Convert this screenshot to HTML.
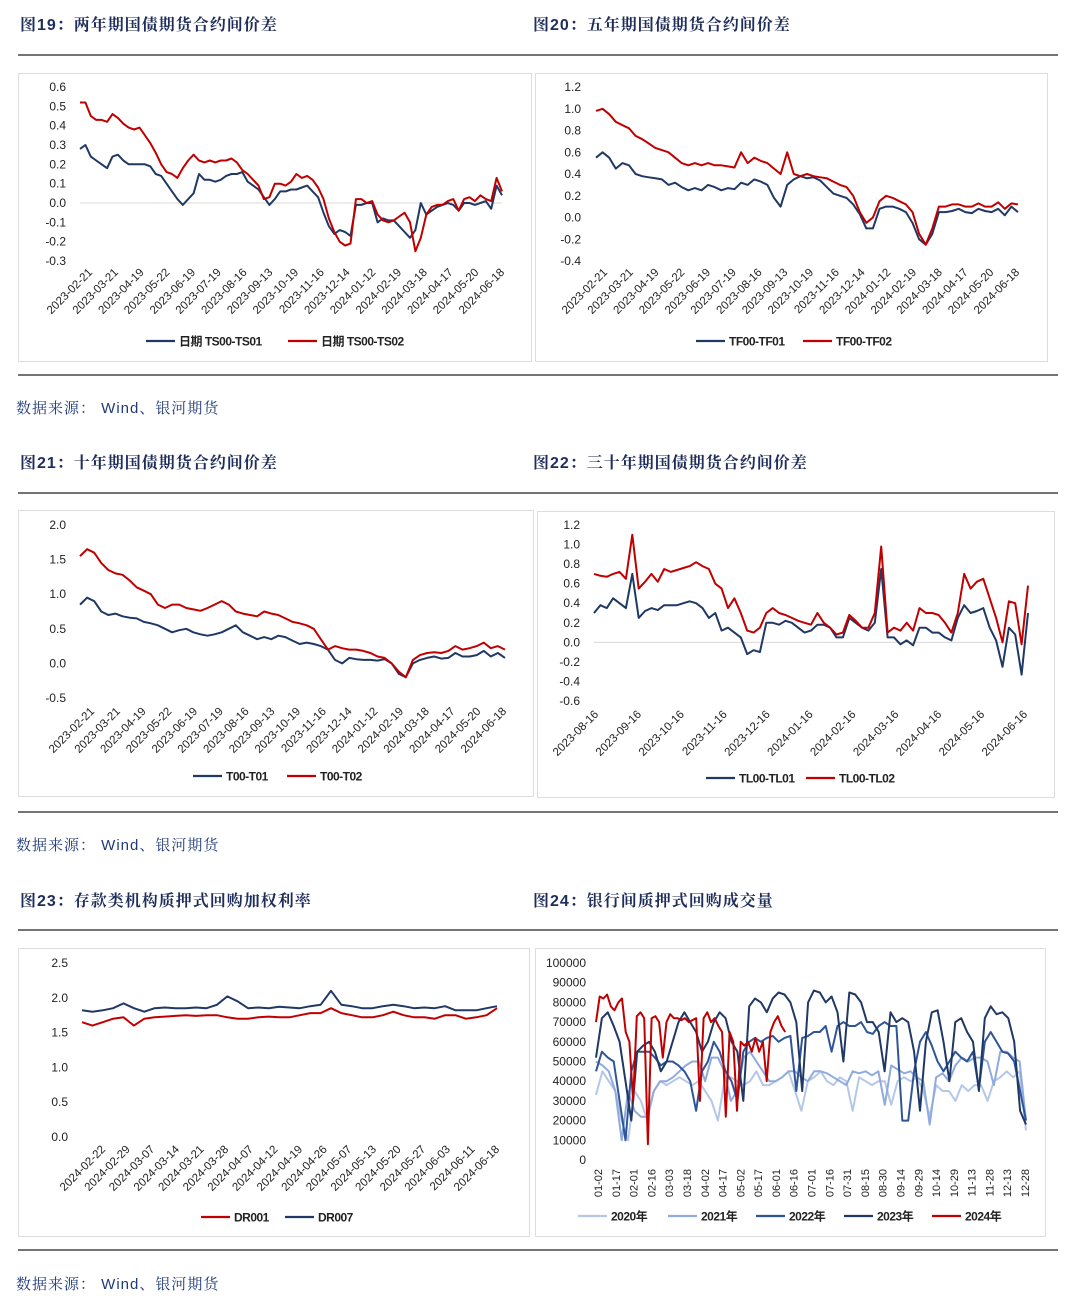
<!DOCTYPE html>
<html><head><meta charset="utf-8">
<style>
html,body{margin:0;padding:0;background:#fff;width:1080px;height:1312px;overflow:hidden}
svg{display:block}
.t{font-family:"Liberation Sans","Noto Serif CJK SC",serif;font-size:16px;font-weight:bold;fill:#1f2d5a;letter-spacing:1px}
.src{font-family:"Liberation Sans","Noto Serif CJK SC",serif;font-size:15px;fill:#1f3a7a;letter-spacing:1px}
.ax{font-family:"Liberation Sans","Noto Sans CJK SC",sans-serif;font-size:12px;fill:#222}
.lg{font-family:"Liberation Sans","Noto Sans CJK SC",sans-serif;font-size:12px;font-weight:bold;fill:#222;letter-spacing:-0.5px}
</style></head><body>
<svg id="pg" width="1080" height="1312" xmlns="http://www.w3.org/2000/svg">
<text class="t" x="20" y="30">图19：两年期国债期货合约间价差</text>
<text class="t" x="533" y="30">图20：五年期国债期货合约间价差</text>
<line x1="18" y1="55" x2="1058" y2="55" stroke="#222" stroke-width="1.3"/>
<rect x="18.5" y="73.5" width="513" height="288" fill="none" stroke="#ddd"/>
<rect x="535.5" y="73.5" width="512" height="288" fill="none" stroke="#ddd"/>
<line x1="18" y1="375" x2="1058" y2="375" stroke="#222" stroke-width="1.3"/>
<text class="src" x="16" y="413">数据来源： Wind、银河期货</text>

<text class="t" x="20" y="468">图21：十年期国债期货合约间价差</text>
<text class="t" x="533" y="468">图22：三十年期国债期货合约间价差</text>
<line x1="18" y1="493" x2="1058" y2="493" stroke="#222" stroke-width="1.3"/>
<rect x="18.5" y="510.5" width="515" height="286" fill="none" stroke="#ddd"/>
<rect x="537.5" y="511.5" width="517" height="286" fill="none" stroke="#ddd"/>
<line x1="18" y1="812" x2="1058" y2="812" stroke="#222" stroke-width="1.3"/>
<text class="src" x="16" y="850">数据来源： Wind、银河期货</text>

<text class="t" x="20" y="906">图23：存款类机构质押式回购加权利率</text>
<text class="t" x="533" y="906">图24：银行间质押式回购成交量</text>
<line x1="18" y1="930" x2="1058" y2="930" stroke="#222" stroke-width="1.3"/>
<rect x="18.5" y="948.5" width="511" height="288" fill="none" stroke="#ddd"/>
<rect x="535.5" y="948.5" width="510" height="288" fill="none" stroke="#ddd"/>
<line x1="18" y1="1250" x2="1058" y2="1250" stroke="#222" stroke-width="1.3"/>
<text class="src" x="16" y="1289">数据来源： Wind、银河期货</text>
</svg>
<script>
// ---- data ----
const c19Ticks=["0.6","0.5","0.4","0.3","0.2","0.1","0.0","-0.1","-0.2","-0.3"];
const c19Dates=["2023-02-21","2023-03-21","2023-04-19","2023-05-22","2023-06-19","2023-07-19","2023-08-16","2023-09-13","2023-10-19","2023-11-16","2023-12-14","2024-01-12","2024-02-19","2024-03-18","2024-04-17","2024-05-20","2024-06-18"];
const c19TS01=[0.28,0.3,0.24,0.22,0.2,0.18,0.24,0.25,0.22,0.2,0.2,0.2,0.2,0.19,0.15,0.14,0.1,0.06,0.02,-0.01,0.02,0.05,0.15,0.12,0.12,0.11,0.12,0.14,0.15,0.15,0.16,0.11,0.09,0.07,0.03,-0.01,0.02,0.06,0.06,0.07,0.07,0.08,0.09,0.06,0.03,-0.05,-0.12,-0.16,-0.14,-0.15,-0.17,-0.01,-0.01,0.0,0.0,-0.1,-0.08,-0.09,-0.09,-0.12,-0.15,-0.18,-0.14,0.0,-0.06,-0.04,-0.02,-0.01,0.0,-0.01,-0.04,0.0,0.0,-0.01,0.0,0.01,-0.03,0.09,0.04];
const c19TS02=[0.52,0.52,0.45,0.43,0.43,0.42,0.46,0.44,0.41,0.39,0.38,0.39,0.35,0.31,0.26,0.2,0.16,0.15,0.13,0.18,0.22,0.25,0.22,0.21,0.22,0.21,0.22,0.22,0.23,0.21,0.17,0.15,0.12,0.09,0.02,0.03,0.1,0.1,0.09,0.11,0.15,0.13,0.14,0.12,0.08,0.02,-0.08,-0.15,-0.2,-0.22,-0.21,0.02,0.02,0.0,0.01,-0.06,-0.09,-0.1,-0.09,-0.07,-0.05,-0.1,-0.25,-0.18,-0.06,-0.02,-0.01,-0.01,0.01,0.02,-0.04,0.02,0.03,0.01,0.04,0.02,0.01,0.13,0.06];

const c20Ticks=["1.2","1.0","0.8","0.6","0.4","0.2","0.0","-0.2","-0.4"];
const c20TF01=[0.55,0.6,0.55,0.45,0.5,0.48,0.4,0.38,0.37,0.36,0.35,0.3,0.32,0.28,0.25,0.27,0.25,0.3,0.28,0.25,0.27,0.26,0.32,0.3,0.35,0.33,0.3,0.18,0.1,0.3,0.35,0.38,0.36,0.37,0.34,0.28,0.22,0.2,0.18,0.12,0.03,-0.1,-0.1,0.08,0.1,0.1,0.08,0.05,-0.05,-0.2,-0.25,-0.15,0.05,0.05,0.06,0.08,0.05,0.04,0.08,0.06,0.05,0.08,0.02,0.1,0.05];
const c20TF02=[0.98,1.0,0.95,0.88,0.85,0.82,0.75,0.72,0.68,0.64,0.62,0.6,0.55,0.5,0.48,0.5,0.48,0.5,0.48,0.48,0.47,0.46,0.6,0.5,0.55,0.52,0.5,0.45,0.4,0.6,0.4,0.38,0.4,0.38,0.37,0.36,0.33,0.3,0.28,0.2,0.05,-0.05,0.0,0.15,0.2,0.18,0.15,0.12,0.05,-0.15,-0.25,-0.1,0.1,0.1,0.12,0.12,0.1,0.1,0.13,0.1,0.1,0.14,0.08,0.13,0.12];

const c21Ticks=["2.0","1.5","1.0","0.5","0.0","-0.5"];
const c21T01=[0.85,0.95,0.9,0.75,0.7,0.72,0.68,0.66,0.65,0.6,0.58,0.55,0.5,0.45,0.48,0.5,0.45,0.42,0.4,0.42,0.45,0.5,0.55,0.45,0.4,0.35,0.38,0.35,0.4,0.38,0.33,0.28,0.3,0.28,0.25,0.2,0.05,0.0,0.08,0.06,0.05,0.05,0.04,0.06,0.0,-0.15,-0.2,0.0,0.05,0.08,0.1,0.07,0.08,0.15,0.1,0.1,0.12,0.18,0.1,0.15,0.08];
const c21T02=[1.55,1.65,1.6,1.45,1.35,1.3,1.28,1.2,1.1,1.05,1.0,0.85,0.8,0.85,0.85,0.8,0.78,0.76,0.8,0.85,0.9,0.85,0.75,0.72,0.7,0.68,0.75,0.72,0.7,0.65,0.6,0.58,0.55,0.5,0.35,0.2,0.25,0.22,0.2,0.2,0.18,0.15,0.1,0.08,0.0,-0.12,-0.2,0.05,0.12,0.15,0.16,0.15,0.18,0.25,0.2,0.22,0.25,0.3,0.22,0.25,0.2];

const c22Ticks=["1.2","1.0","0.8","0.6","0.4","0.2","0.0","-0.2","-0.4","-0.6"];
const c22Dates=["2023-08-16","2023-09-16","2023-10-16","2023-11-16","2023-12-16","2024-01-16","2024-02-16","2024-03-16","2024-04-16","2024-05-16","2024-06-16"];
const c22TL01=[0.3,0.38,0.35,0.45,0.4,0.35,0.7,0.25,0.32,0.35,0.33,0.38,0.38,0.38,0.4,0.42,0.4,0.35,0.25,0.3,0.12,0.15,0.1,0.05,-0.12,-0.08,-0.1,0.2,0.2,0.18,0.22,0.2,0.15,0.1,0.12,0.18,0.18,0.15,0.05,0.05,0.25,0.2,0.15,0.12,0.2,0.75,0.05,0.05,-0.02,0.02,-0.03,0.15,0.15,0.1,0.1,0.05,0.02,0.25,0.38,0.3,0.32,0.35,0.15,0.02,-0.25,0.15,0.08,-0.33,0.3];
const c22TL02=[0.7,0.68,0.67,0.7,0.72,0.65,1.1,0.55,0.62,0.7,0.62,0.75,0.72,0.74,0.76,0.78,0.82,0.78,0.75,0.6,0.55,0.35,0.45,0.3,0.12,0.1,0.15,0.3,0.35,0.3,0.28,0.25,0.22,0.2,0.18,0.3,0.2,0.15,0.08,0.1,0.28,0.22,0.15,0.15,0.3,0.98,0.1,0.15,0.12,0.2,0.12,0.35,0.3,0.3,0.28,0.2,0.1,0.3,0.7,0.55,0.62,0.65,0.45,0.25,0.0,0.42,0.4,-0.02,0.58];

const c23Ticks=["2.5","2.0","1.5","1.0","0.5","0.0"];
const c23Dates=["2024-02-22","2024-02-29","2024-03-07","2024-03-14","2024-03-21","2024-03-28","2024-04-07","2024-04-12","2024-04-19","2024-04-26","2024-05-07","2024-05-13","2024-05-20","2024-05-27","2024-06-03","2024-06-11","2024-06-18"];
const c23DR001=[1.65,1.6,1.65,1.7,1.72,1.6,1.7,1.72,1.73,1.74,1.75,1.74,1.75,1.75,1.72,1.7,1.7,1.72,1.73,1.72,1.72,1.75,1.78,1.78,1.85,1.78,1.75,1.72,1.72,1.75,1.8,1.75,1.72,1.72,1.7,1.75,1.75,1.7,1.72,1.75,1.85];
const c23DR007=[1.82,1.8,1.82,1.85,1.92,1.85,1.8,1.85,1.86,1.85,1.85,1.86,1.85,1.9,2.02,1.95,1.85,1.86,1.85,1.87,1.86,1.85,1.88,1.9,2.1,1.9,1.88,1.85,1.85,1.88,1.9,1.88,1.85,1.86,1.85,1.88,1.82,1.82,1.82,1.85,1.88];

const c24Ticks=["100000","90000","80000","70000","60000","50000","40000","30000","20000","10000","0"];
const c24Dates=["01-02","01-17","02-01","02-16","03-03","03-18","04-02","04-17","05-02","05-17","06-01","06-16","07-01","07-16","07-31","08-15","08-30","09-14","09-29","10-14","10-29","11-13","11-28","12-13","12-28"];
const y2020=[33,45,40,35,20,10,35,30,20,35,40,38,40,42,40,38,40,35,30,20,40,42,40,38,40,45,38,38,40,42,45,35,25,40,42,45,40,38,42,40,25,42,40,38,40,40,28,40,42,40,42,35,22,38,35,35,30,38,35,38,38,30,40,42,45,42,45,15];
const y2021=[50,48,45,35,10,35,25,22,22,35,40,40,42,45,48,50,50,40,52,52,45,30,35,52,55,50,45,40,40,42,45,45,42,40,45,45,44,42,40,38,45,44,45,43,45,28,48,46,44,45,42,40,18,42,44,40,48,52,50,52,52,50,38,55,55,52,50,20];
const y2022=[45,55,52,50,30,10,45,55,55,55,52,48,50,50,48,45,40,25,45,50,60,55,45,40,30,55,60,62,60,62,63,60,62,63,35,62,63,65,65,68,55,68,70,68,68,70,65,64,68,70,68,68,20,20,45,60,65,58,50,45,50,55,52,50,55,36,60,65,60,55,54,50,35,20];
const y2023=[52,72,75,68,60,40,20,55,58,60,55,45,50,60,70,75,70,65,55,60,70,75,72,60,55,30,78,82,80,75,82,85,84,80,70,35,80,86,85,80,83,75,50,85,84,80,70,70,65,45,75,70,72,70,55,25,60,75,76,60,40,70,72,65,60,35,72,78,74,75,72,60,25,18];
const y2024=[70,83,82,84,78,76,80,82,65,60,30,73,75,72,8,72,73,70,52,70,74,72,72,71,72,70,71,72,30,72,75,70,72,68,65,22,65,60,25,60,58,60,55,62,55,60,40,65,70,73,68,65];

const BLUE="#203864",RED="#c00000";
const NS="http://www.w3.org/2000/svg";
const pg=document.getElementById('pg');
function mk(tag,attrs,parent){const e=document.createElementNS(NS,tag);for(const k in attrs)e.setAttribute(k,attrs[k]);(parent||pg).appendChild(e);return e;}

function chart(cfg){
  const g=mk('g',{});
  
  
  const ticks=cfg.ticks.map(Number);
  const vmax=ticks[0],vmin=ticks[ticks.length-1];
  const y=v=>cfg.yTop+(vmax-v)/(vmax-vmin)*(cfg.yBot-cfg.yTop);
  cfg.ticks.forEach(t=>{
    const tx=mk('text',{x:cfg.labX,y:y(Number(t))+4,'text-anchor':'end',class:'ax'},g);
    
    
    tx.textContent=t;
  });
  if(cfg.zero){const zl=mk('line',{x1:cfg.x0,x2:cfg.x1,y1:y(0),y2:y(0),stroke:'#d9d9d9','stroke-width':1},g);
    }
  const n=cfg.dates.length;
  cfg.dates.forEach((d,i)=>{
    const xx=cfg.dx0+(cfg.dx1-cfg.dx0)*i/(n-1);
    const tx=mk('text',{x:xx,y:cfg.dy,'text-anchor':'end',class:'ax',transform:`rotate(${cfg.rot} ${xx} ${cfg.dy})`,style:'font-size:'+(cfg.dfs||11.5)+'px'},g);
    
    
    tx.textContent=d;
  });
  cfg.series.forEach(s=>{
    const m=s.data.length,f=s.frac||1;
    const pts=s.data.map((v,i)=>{const xx=cfg.x0+(cfg.x1-cfg.x0)*f*i/(m-1);return xx.toFixed(1)+','+y(v*(s.scale||1)).toFixed(1);}).join(' ');
    const pl=mk('polyline',{points:pts,fill:'none',stroke:s.color,'stroke-width':2,'stroke-linejoin':'round'},g);
    
    
  });
  cfg.legend.forEach(l=>{
    const ln=mk('line',{x1:l.x,x2:l.x+29,y1:cfg.ly,y2:cfg.ly,stroke:l.color,'stroke-width':2.2},g);
    
    
    const tx=mk('text',{x:l.x+33,y:cfg.ly+4.5,class:'lg'},g);
    
    
    tx.textContent=l.text;
  });
}

chart({name:'chart-fig19',ticks:c19Ticks,yTop:87,yBot:261,labX:66,x0:80,x1:502,zero:true,dates:c19Dates,dx0:93,dx1:505,dy:273,rot:-45,
  series:[{key:'ts01',data:c19TS01,color:BLUE},{key:'ts02',data:c19TS02,color:RED}],ly:341,
  legend:[{x:146,color:BLUE,text:'日期 TS00-TS01'},{x:288,color:RED,text:'日期 TS00-TS02'}]});
chart({name:'chart-fig20',ticks:c20Ticks,yTop:87,yBot:261,labX:581,x0:596,x1:1018,zero:false,dates:c19Dates,dx0:608,dx1:1020,dy:273,rot:-45,
  series:[{key:'tf01',data:c20TF01,color:BLUE},{key:'tf02',data:c20TF02,color:RED}],ly:341,
  legend:[{x:696,color:BLUE,text:'TF00-TF01'},{x:803,color:RED,text:'TF00-TF02'}]});
chart({name:'chart-fig21',ticks:c21Ticks,yTop:525,yBot:698,labX:66,x0:80,x1:505,zero:false,dates:c19Dates,dx0:95,dx1:507,dy:712,rot:-45,
  series:[{key:'t01',data:c21T01,color:BLUE},{key:'t02',data:c21T02,color:RED}],ly:776,
  legend:[{x:193,color:BLUE,text:'T00-T01'},{x:287,color:RED,text:'T00-T02'}]});
chart({name:'chart-fig22',ticks:c22Ticks,yTop:525,yBot:701,labX:580,x0:594,x1:1028,zero:true,dates:c22Dates,dx0:599,dx1:1028,dy:715,rot:-45,
  series:[{key:'tl01',data:c22TL01,color:BLUE},{key:'tl02',data:c22TL02,color:RED}],ly:778,
  legend:[{x:706,color:BLUE,text:'TL00-TL01'},{x:806,color:RED,text:'TL00-TL02'}]});
chart({name:'chart-fig23',ticks:c23Ticks,yTop:963,yBot:1137,labX:68,x0:82,x1:497,zero:false,dates:c23Dates,dx0:106,dx1:500,dy:1150,rot:-45,
  series:[{key:'dr007',data:c23DR007,color:BLUE},{key:'dr001',data:c23DR001,color:RED}],ly:1217,
  legend:[{x:201,color:RED,text:'DR001'},{x:285,color:BLUE,text:'DR007'}]});
chart({name:'chart-fig24',ticks:c24Ticks,yTop:963,yBot:1160,labX:586,x0:596,x1:1026,zero:false,dates:c24Dates,dx0:602,dx1:1029,dy:1169,rot:-90,dfs:11,
  series:[{key:'2020',data:y2020,color:'#b4c7e7',scale:1000},{key:'2021',data:y2021,color:'#8faadc',scale:1000},{key:'2022',data:y2022,color:'#2f5597',scale:1000},{key:'2023',data:y2023,color:BLUE,scale:1000},{key:'2024',data:y2024,color:RED,scale:1000,frac:0.44}],ly:1216,
  legend:[{x:578,color:'#b4c7e7',text:'2020年'},{x:668,color:'#8faadc',text:'2021年'},{x:756,color:'#2f5597',text:'2022年'},{x:844,color:BLUE,text:'2023年'},{x:932,color:RED,text:'2024年'}]});
</script>
</body></html>
